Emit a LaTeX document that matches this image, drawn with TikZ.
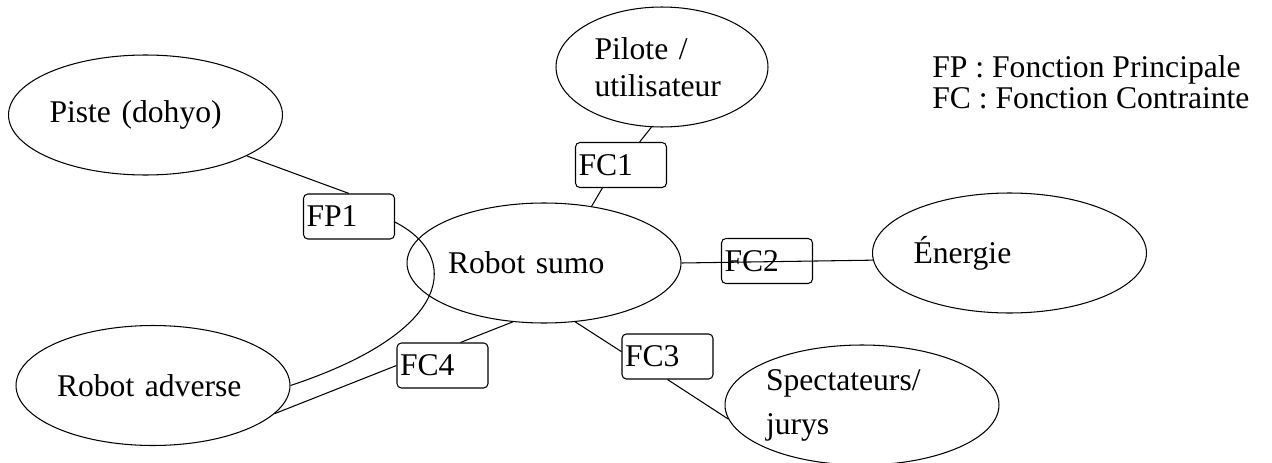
\documentclass[tikz,border=0pt]{standalone}
\usepackage{fontspec}
\setmainfont{Liberation Serif}
\usetikzlibrary{shapes.geometric, calc}
\tikzset{
    actor/.style={ellipse, draw, line width=0.6pt, minimum width=5.48cm, minimum height=2.4cm, inner sep=0pt, text width=3.84cm, align=left, font=\fontsize{18}{21}\selectfont},
    funcbox/.style={rectangle, draw, rounded corners=2.5pt, line width=0.6pt, minimum width=1.82cm, minimum height=0.9cm, text width=1.7cm, inner xsep=0.06cm, inner ysep=0pt, align=left, font=\fontsize{18}{21}\selectfont},
    legend/.style={inner sep=0pt, font=\fontsize{18}{16}\selectfont},
    link/.style={line width=0.6pt},
}
\newcommand{\chanLink}[2]{
    \draw[link] (#1) -- (#2);
}

\begin{document}
\begin{tikzpicture}[x=0.02cm, y=-0.02cm]
        \useasboundingbox (0,0) rectangle (1272,463);

        \node[actor] (piste) at (145.5,115) {Piste (dohyo)};
        \node[actor, minimum width=4.24cm, text width=2.7cm] (pilote) at (662,67) {Pilote /\\utilisateur};
        \node[actor] (sumo) at (544,263) {Robot sumo};
        \node[actor] (energie) at (1009.5,253) {Énergie};
        \node[actor] (adverse) at (153,385.5) {Robot adverse};
        \node[actor] (spect) at (862,405) {Spectateurs/\\[4pt]jurys};

        \node[funcbox] (fp1) at (349,216.5) {FP1};
        \node[funcbox] (fc1) at (621,165) {FC1};
        \node[funcbox] (fc2) at (767,261) {FC2};
        \node[funcbox] (fc3) at (667.5,356.5) {FC3};
        \node[funcbox] (fc4) at (442.5,365.5) {FC4};

        \node[legend, anchor=base west] (legFP) at (932,77) {FP : Fonction Principale};
        \node[legend, anchor=base west] (legFC) at (932,108) {FC : Fonction Contrainte};

        % FP1 passe par le robot sumo
        \chanLink{piste.-22}{fp1.north}
        \draw[link] (fp1.-7) .. controls +(65,33) and +(166,-55) .. (adverse.east);

        \chanLink{adverse.-13}{fc4.west}
        \chanLink{fc4.52}{sumo.242}
        \chanLink{pilote.260}{fc1.51}
        \chanLink{fc1.231}{sumo.50}
        \chanLink{sumo.east}{energie.183}
        \chanLink{sumo.-62}{fc3.174}
        \chanLink{fc3.south}{spect.186}

    \end{tikzpicture}
\end{document}
